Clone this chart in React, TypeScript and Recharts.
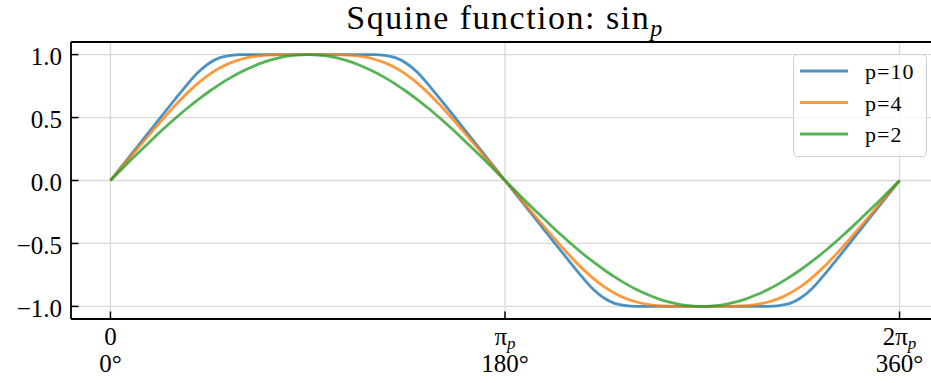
import { LineChart, Line, XAxis, YAxis, CartesianGrid, ReferenceLine, Legend } from 'recharts'

// angle in degrees (0 .. 2π_p mapped to 0 .. 360)
const ANGLES = [
  0, 5, 10, 15, 20, 25, 30, 35, 40, 45, 50, 55, 60, 65, 70, 75, 80, 85, 90,
  95, 100, 105, 110, 115, 120, 125, 130, 135, 140, 145, 150, 155, 160, 165, 170, 175, 180,
  185, 190, 195, 200, 205, 210, 215, 220, 225, 230, 235, 240, 245, 250, 255, 260, 265, 270,
  275, 280, 285, 290, 295, 300, 305, 310, 315, 320, 325, 330, 335, 340, 345, 350, 355, 360,
]

const SIN_P10 = [
  0, 0.11, 0.219, 0.329, 0.438, 0.548, 0.656, 0.762, 0.859, 0.931, 0.976, 0.993, 0.999, 1, 1, 1, 1, 1, 1,
  1, 1, 1, 1, 1, 0.999, 0.993, 0.976, 0.931, 0.859, 0.762, 0.656, 0.548, 0.438, 0.329, 0.219, 0.11, 0,
  -0.11, -0.219, -0.329, -0.438, -0.548, -0.656, -0.762, -0.859, -0.931, -0.976, -0.993, -0.999, -1, -1, -1, -1, -1, -1,
  -1, -1, -1, -1, -1, -0.999, -0.993, -0.976, -0.931, -0.859, -0.762, -0.656, -0.548, -0.438, -0.329, -0.219, -0.11, 0,
]

const SIN_P4 = [
  0, 0.103, 0.206, 0.309, 0.41, 0.51, 0.605, 0.694, 0.773, 0.841, 0.895, 0.936, 0.965, 0.983, 0.993, 0.998, 1, 1, 1,
  1, 1, 0.998, 0.993, 0.983, 0.965, 0.936, 0.895, 0.841, 0.773, 0.694, 0.605, 0.51, 0.41, 0.309, 0.206, 0.103, 0,
  -0.103, -0.206, -0.309, -0.41, -0.51, -0.605, -0.694, -0.773, -0.841, -0.895, -0.936, -0.965, -0.983, -0.993, -0.998, -1, -1, -1,
  -1, -1, -0.998, -0.993, -0.983, -0.965, -0.936, -0.895, -0.841, -0.773, -0.694, -0.605, -0.51, -0.41, -0.309, -0.206, -0.103, 0,
]

const SIN_P2 = [
  0, 0.087, 0.174, 0.259, 0.342, 0.423, 0.5, 0.574, 0.643, 0.707, 0.766, 0.819, 0.866, 0.906, 0.94, 0.966, 0.985, 0.996, 1,
  0.996, 0.985, 0.966, 0.94, 0.906, 0.866, 0.819, 0.766, 0.707, 0.643, 0.574, 0.5, 0.423, 0.342, 0.259, 0.174, 0.087, 0,
  -0.087, -0.174, -0.259, -0.342, -0.423, -0.5, -0.574, -0.643, -0.707, -0.766, -0.819, -0.866, -0.906, -0.94, -0.966, -0.985, -0.996, -1,
  -0.996, -0.985, -0.966, -0.94, -0.906, -0.866, -0.819, -0.766, -0.707, -0.643, -0.574, -0.5, -0.423, -0.342, -0.259, -0.174, -0.087, 0,
]

const X_TICKS = [0, 180, 360]
const X_TOP_LABELS = ['0', '\u03c0', '2\u03c0']
const X_DEG_LABELS = ['0\u00b0', '180\u00b0', '360\u00b0']
const Y_TICKS = [-1, -0.5, 0, 0.5, 1]

const SERIES = [
  { key: 'p10', name: 'p=10', color: '#1f77b4' },
  { key: 'p4', name: 'p=4', color: '#ff7f0e' },
  { key: 'p2', name: 'p=2', color: '#2ca02c' },
]

const FONT = "'Liberation Serif', 'Times New Roman', serif"
const PLOT_LEFT = 71
const PLOT_BOTTOM = 319

const data = ANGLES.map((deg, i) => ({ deg, p10: SIN_P10[i], p4: SIN_P4[i], p2: SIN_P2[i] }))

const fmtY = (v: number) => (v < 0 ? '\u2212' : '') + Math.abs(v).toFixed(1)

function XTick({ x, payload }: any) {
  const i = X_TICKS.indexOf(payload.value)
  return (
    <g>
      <line x1={x} x2={x} y1={PLOT_BOTTOM} y2={PLOT_BOTTOM - 7.5} stroke="#000" strokeWidth={1.5} />
      <text x={x} y={345} textAnchor="middle" fontFamily={FONT} fontSize={25} fill="#000">
        {X_TOP_LABELS[i]}
        {i > 0 && <tspan fontStyle="italic" fontSize={17} dy={3.5}>p</tspan>}
      </text>
      <text x={x} y={372} textAnchor="middle" fontFamily={FONT} fontSize={25} fill="#000">
        {X_DEG_LABELS[i]}
      </text>
    </g>
  )
}

function YTick({ y, payload }: any) {
  return (
    <g>
      <line x1={PLOT_LEFT} x2={PLOT_LEFT + 7.5} y1={y} y2={y} stroke="#000" strokeWidth={1.5} />
      <text x={62} y={y + 10.5} textAnchor="end" fontFamily={FONT} fontSize={25} fill="#000">
        {fmtY(payload.value)}
      </text>
    </g>
  )
}

function LegendBox() {
  return (
    <svg width={134} height={103} style={{ display: 'block' }}>
      <rect x={0.5} y={0.5} width={133} height={102} rx={4} fill="#fff" fillOpacity={0.8} stroke="#d0d0d0" />
      {SERIES.map((s, i) => {
        const cy = 17 + i * 31.5
        return (
          <g key={s.key}>
            <line x1={7} x2={55} y1={cy} y2={cy} stroke={s.color} strokeOpacity={0.8} strokeWidth={3} />
            <text x={72} y={cy + 8} fontFamily={FONT} fontSize={22} letterSpacing={1} fill="#000">{s.name}</text>
          </g>
        )
      })}
    </svg>
  )
}

export default function App() {
  return (
    <div style={{ position: 'absolute', left: 0, top: 0, width: 931, height: 383, overflow: 'hidden', background: '#fff' }}>
      <LineChart width={939} height={383} data={data} margin={{ top: 42, right: 0, bottom: 0, left: 0 }}>
        <CartesianGrid stroke="#d9d9d9" strokeWidth={1.3} />
        <XAxis
          dataKey="deg"
          type="number"
          domain={[-18, 378]}
          ticks={X_TICKS}
          interval={0}
          allowDataOverflow
          height={64}
          tickLine={false}
          axisLine={{ stroke: '#000', strokeWidth: 1.8 }}
          tick={<XTick />}
        />
        <YAxis
          type="number"
          domain={[-1.1, 1.1]}
          ticks={Y_TICKS}
          interval={0}
          allowDataOverflow
          width={71}
          tickLine={false}
          axisLine={{ stroke: '#000', strokeWidth: 1.8 }}
          tick={<YTick />}
        />
        <ReferenceLine y={1.1} stroke="#000" strokeWidth={1.8} ifOverflow="extendDomain" />
        <ReferenceLine x={378} stroke="#000" strokeWidth={1.8} ifOverflow="extendDomain" />
        {SERIES.map(s => (
          <Line
            key={s.key}
            type="monotone"
            dataKey={s.key}
            name={s.name}
            stroke={s.color}
            strokeOpacity={0.8}
            strokeWidth={2.8}
            dot={false}
            isAnimationActive={false}
          />
        ))}
        <Legend
          layout="vertical"
          align="center"
          verticalAlign="middle"
          wrapperStyle={{ position: 'absolute', left: 793, top: 54, width: 134, height: 103 }}
          content={() => <LegendBox />}
        />
        <text x={505} y={29.3} textAnchor="middle" fontFamily={FONT} fontSize={34} letterSpacing={1.5} fill="#000">
          Squine function: sin
          <tspan fontStyle="italic" fontSize={24} dy={7}>p</tspan>
        </text>
      </LineChart>
    </div>
  )
}
